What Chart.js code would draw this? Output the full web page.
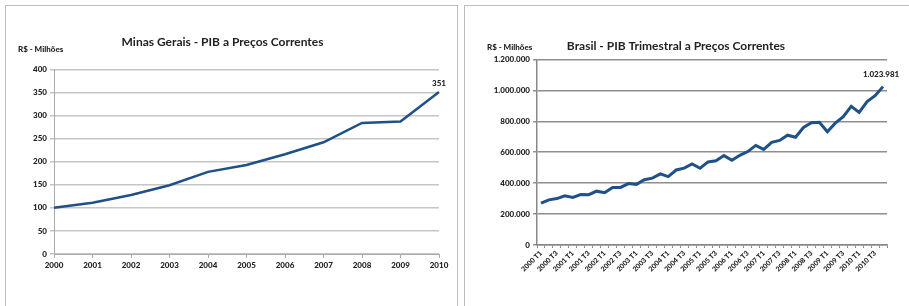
<!DOCTYPE html>
<html>
<head>
<meta charset="utf-8">
<script src="https://cdn.jsdelivr.net/npm/chart.js@4"></script>
<style>
  body { margin: 0; background: #fff; width: 909px; height: 306px; overflow: hidden; position: relative; font-family: Lato, sans-serif; }
  .panel { position: absolute; border: 1px solid #bdbdbd; background: #fff; }
  #p1 { left: 5px; top: 5px; width: 451px; height: 310px; }
  #p2 { left: 464px; top: 5px; width: 462px; height: 310px; }
  .unit { position: absolute; font-weight: 900; font-size: 8px; color: #222; }
  canvas { position: absolute; left: 0; top: 0; }
</style>
</head>
<body>
<div class="panel" id="p1">
  <canvas id="mgChart" width="451" height="300"></canvas>
  <div class="unit" style="left:12px; top:38px;">R$ - Milhões</div>
</div>
<div class="panel" id="p2">
  <canvas id="brChart" width="462" height="300"></canvas>
  <div class="unit" style="left:22px; top:36px;">R$ - Milhões</div>
</div>
<script>
// minas gerais, yearly
const mgYears = ["2000", "2001", "2002", "2003", "2004", "2005", "2006", "2007", "2008", "2009", "2010"];
const mgPib = [100, 111, 128, 149, 178, 193, 216, 242, 284, 287, 351];
const mgTicks = [0, 50, 100, 150, 200, 250, 300, 350, 400];

// brasil, quarterly (mil R$ milhões)
const brYears = ["2000", "2001", "2002", "2003", "2004", "2005", "2006", "2007", "2008", "2009", "2010"];
const brQuarters = ["T1", "T2", "T3", "T4"];
const brPib = [
  270, 292, 300, 318, 308, 326, 325, 348, 338, 372,
  372, 397, 392, 422, 432, 460, 442, 485, 497, 524,
  496, 537, 545, 578, 548, 580, 604, 644, 618, 664,
  676, 710, 697, 760, 790, 793, 732, 788, 830, 896,
  857, 927, 965, 1023.981
].map((v) => v * 1000);
const brTicks = [0, 200000, 400000, 600000, 800000, 1000000, 1200000];

const brLabels = [];
brYears.forEach((y) => brQuarters.forEach((q) => brLabels.push(y + " " + q)));

const lineColor = "#1f5189";
const tickFont = { family: "Lato", size: 8, weight: "900" };
const titleFont = { family: "Lato", size: 12, weight: "bold" };

const ptBR = (v) => String(Math.round(v)).replace(/\B(?=(\d{3})+(?!\d))/g, ".");

// label over the last point
const lastLabel = {
  id: "lastLabel",
  afterDatasetsDraw(chart, args, opts) {
    const meta = chart.getDatasetMeta(0);
    const pt = meta.data[meta.data.length - 1];
    const ctx = chart.ctx;
    ctx.save();
    ctx.font = "900 8px Lato";
    ctx.fillStyle = "#222";
    ctx.textAlign = "center";
    ctx.textBaseline = "middle";
    ctx.fillText(opts.text, pt.x + (opts.dx || 0), pt.y - opts.dy);
    ctx.restore();
  },
};

new Chart(document.getElementById("mgChart"), {
  type: "line",
  data: {
    labels: mgYears,
    datasets: [{ data: mgPib, borderColor: lineColor, borderWidth: 2.5, pointRadius: 0, tension: 0 }],
  },
  plugins: [lastLabel],
  options: {
    responsive: false,
    animation: false,
    layout: { padding: { left: 0, right: 18, top: 0, bottom: 0 } },
    plugins: {
      legend: { display: false },
      tooltip: { enabled: false },
      title: {
        display: true,
        text: "Minas Gerais - PIB a Preços Correntes",
        font: titleFont,
        color: "#222",
        padding: { top: 29, bottom: 20 },
      },
      lastLabel: { text: "351", dy: 9 },
    },
    scales: {
      x: {
        offset: false,
        afterFit: (s) => { s.height = 52; },
        grid: { drawOnChartArea: false, tickLength: 4, color: "#aaa" },
        border: { color: "#aaa", width: 1 },
        ticks: { font: tickFont, color: "#222", maxRotation: 0, autoSkip: false, padding: 3 },
      },
      y: {
        min: 0,
        max: 400,
        afterFit: (s) => { s.width = 48; },
        afterBuildTicks: (s) => { s.ticks = mgTicks.map((v) => ({ value: v })); },
        grid: { color: "#c6c6c6", lineWidth: 1.5, tickLength: 4 },
        border: { color: "#aaa", width: 1 },
        ticks: { font: tickFont, color: "#222", padding: 3 },
      },
    },
  },
});

new Chart(document.getElementById("brChart"), {
  type: "line",
  data: {
    labels: brLabels,
    datasets: [{ data: brPib, borderColor: lineColor, borderWidth: 3, pointRadius: 0, tension: 0 }],
  },
  plugins: [lastLabel],
  options: {
    responsive: false,
    animation: false,
    layout: { padding: { left: 0, right: 40, top: 0, bottom: 0 } },
    plugins: {
      legend: { display: false },
      tooltip: { enabled: false },
      title: {
        display: true,
        text: "Brasil - PIB Trimestral a Preços Correntes",
        font: titleFont,
        color: "#222",
        padding: { top: 33, bottom: 6 },
      },
      lastLabel: { text: "1.023.981", dy: 12, dx: -2 },
    },
    scales: {
      x: {
        offset: true,
        afterFit: (s) => { s.height = 61; },
        grid: { offset: true, drawOnChartArea: false, tickLength: 3, color: "#888" },
        border: { color: "#888", width: 1.5 },
        ticks: {
          font: { family: "Lato", size: 7, weight: "900" },
          color: "#222",
          autoSkip: false,
          minRotation: 45,
          maxRotation: 45,
          padding: 1,
          callback: function (value, index) {
            return index % 2 === 0 ? this.getLabelForValue(value) : "";
          },
        },
      },
      y: {
        min: 0,
        max: 1200000,
        afterFit: (s) => { s.width = 72; },
        afterBuildTicks: (s) => { s.ticks = brTicks.map((v) => ({ value: v })); },
        grid: { color: "#8e8e8e", lineWidth: 1.5, tickLength: 4 },
        border: { color: "#888", width: 1.5 },
        ticks: { font: tickFont, color: "#222", padding: 3, callback: (v) => ptBR(v) },
      },
    },
  },
});
</script>
</body>
</html>
